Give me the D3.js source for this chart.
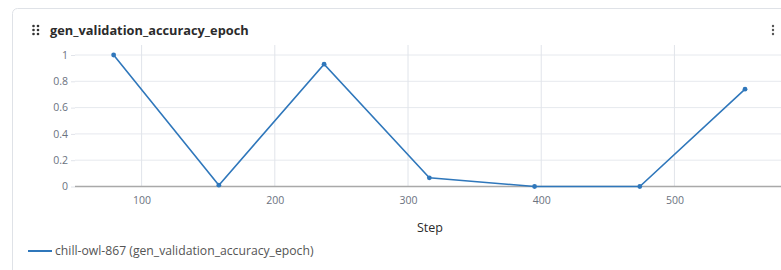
<!DOCTYPE html>
<html><head><meta charset="utf-8">
<script src="https://cdn.jsdelivr.net/npm/d3@7"></script>
<style>
html,body{margin:0;padding:0;background:#fff;overflow:hidden;}
svg{display:block;font-family:"Open Sans",sans-serif;}
</style></head>
<body>
<svg id="c" width="781" height="270"></svg>
<script>
const steps = [79, 158, 237, 316, 395, 474, 553];
const accuracy = [1, 0.01, 0.93, 0.066, 0, 0, 0.74];
const xTicks = [100, 200, 300, 400, 500];
const yTicks = [0, 0.2, 0.4, 0.6, 0.8, 1];
const title = "gen_validation_accuracy_epoch";
const seriesName = "chill-owl-867 (gen_validation_accuracy_epoch)";
const xLabel = "Step";

(function () {
const svg = d3.select("#c");
const blue = "#2f77bb";

// card
svg.append("rect").attr("x", 12.5).attr("y", 8.5).attr("width", 800).attr("height", 300)
  .attr("rx", 5).attr("fill", "#fff").attr("stroke", "#dfe2e7").attr("stroke-width", 1);

// drag icon
const gIcon = svg.append("g").attr("fill", "#333");
for (let r = 0; r < 3; r++) for (let c = 0; c < 2; c++)
  gIcon.append("circle").attr("cx", 33.5 + c * 4.5).attr("cy", 26 + r * 4).attr("r", 1.3);
// kebab
for (let r = 0; r < 3; r++)
  svg.append("circle").attr("cx", 773).attr("cy", 26 + r * 4).attr("r", 1.2).attr("fill", "#555");

svg.append("text").attr("x", 50).attr("y", 34.5).attr("font-size", 12.8).attr("font-weight", 700)
  .attr("fill", "#2b2b2b").text(title);

const x = d3.scaleLinear().domain([50, 580]).range([75, 781]);
const y = d3.scaleLinear().domain([0, 1]).range([186.5, 55]);
const plotTop = 45, plotBottom = 186.5;

// grid
svg.append("g").selectAll("line").data(yTicks.filter(d => d > 0)).join("line")
  .attr("x1", 75).attr("x2", 781).attr("y1", d => y(d)).attr("y2", d => y(d))
  .attr("stroke", "#e6e9ee").attr("stroke-width", 1);
svg.append("g").selectAll("line").data(xTicks).join("line")
  .attr("x1", d => x(d)).attr("x2", d => x(d)).attr("y1", plotTop).attr("y2", plotBottom)
  .attr("stroke", "#e1e4ea").attr("stroke-width", 1);

// axes
const yAxis = svg.append("g").attr("transform", "translate(75,0)")
  .call(d3.axisLeft(y).tickValues(yTicks).tickFormat(d3.format("~g")).tickSize(4).tickPadding(3));
yAxis.select(".domain").remove();
yAxis.selectAll(".tick line").attr("stroke", "#e1e4ea");
yAxis.selectAll("text").attr("fill", "#6b7280").attr("font-size", 10.5).attr("font-family", "Open Sans");

const xAxis = svg.append("g").attr("transform", `translate(0,${plotBottom})`)
  .call(d3.axisBottom(x).tickValues(xTicks).tickSize(0).tickPadding(10));
xAxis.select(".domain").remove();
xAxis.selectAll("text").attr("fill", "#6b7280").attr("font-size", 10.5).attr("font-family", "Open Sans");

svg.append("line").attr("x1", 75).attr("x2", 781).attr("y1", plotBottom).attr("y2", plotBottom)
  .attr("stroke", "#a9a9a9").attr("stroke-width", 1.5);

// line
const data = steps.map((s, i) => ({ s, v: accuracy[i] }));
svg.append("path").datum(data)
  .attr("d", d3.line().x(d => x(d.s)).y(d => y(d.v)))
  .attr("fill", "none").attr("stroke", blue).attr("stroke-width", 1.6);
svg.append("g").selectAll("circle").data(data).join("circle")
  .attr("cx", d => x(d.s)).attr("cy", d => y(d.v)).attr("r", 2.4).attr("fill", blue);

svg.append("text").attr("x", 430).attr("y", 232).attr("text-anchor", "middle")
  .attr("font-size", 12.5).attr("fill", "#2b2b2b").text(xLabel);

// legend
svg.append("line").attr("x1", 28).attr("x2", 52).attr("y1", 251).attr("y2", 251)
  .attr("stroke", blue).attr("stroke-width", 2);
svg.append("text").attr("x", 55).attr("y", 255).attr("font-size", 12.2)
  .attr("fill", "#555").text(seriesName);
})();
</script>
</body></html>
